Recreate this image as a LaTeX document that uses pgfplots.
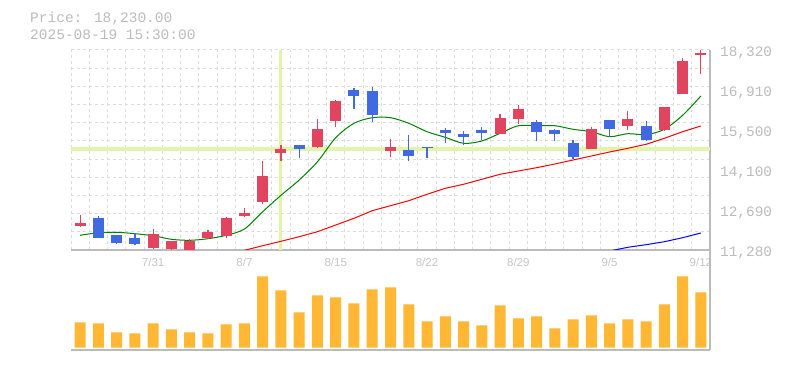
\documentclass[border=0pt]{standalone}
\usepackage{fontspec}
\setmainfont{Liberation Sans}
\newfontfamily\monofont{Liberation Mono}
\usepackage{pgfplots}
\pgfplotsset{compat=1.18}
\definecolor{upc}{HTML}{E0445E}
\definecolor{dnc}{HTML}{4169E1}
\definecolor{volc}{HTML}{FFB734}
\definecolor{gridc}{HTML}{DCDCDC}
\definecolor{axc}{HTML}{BBBBBB}
\definecolor{txtc}{HTML}{BBBBBB}
\definecolor{datec}{HTML}{C4C4C4}
\definecolor{crossc}{HTML}{E2F4A8}
\definecolor{mag}{HTML}{008000}
\definecolor{mar}{HTML}{FF0000}
\definecolor{mab}{HTML}{0000FF}
\begin{document}
\begin{tikzpicture}
\path[use as bounding box] (0,0) rectangle (785pt,370pt);
\node[anchor=west, text=txtc, font=\monofont\fontsize{14.5}{14.5}\selectfont, inner sep=0pt] at (30pt,351.5pt) {Price: 18,230.00};
\node[anchor=west, text=txtc, font=\monofont\fontsize{14.5}{14.5}\selectfont, inner sep=0pt] at (30pt,335.5pt) {2025-08-19 15:30:00};

% ---------------- price panel ----------------
\begin{axis}[
  at={(71pt,120pt)}, anchor=south west, scale only axis,
  width=639pt, height=200pt,
  xmin=-0.5, xmax=34.5, ymin=11280, ymax=18320,
  axis x line*=bottom, axis y line*=right,
  axis line style={axc, line width=1.3pt, -},
  major tick length=0pt, minor tick length=0pt,
  scaled y ticks=false, scaled x ticks=false,
  xtick={4,9,14,19,24,29,34},
  xticklabels={7/31,8/7,8/15,8/22,8/29,9/5,9/12},
  xticklabel style={font=\fontsize{11.5}{11.5}\selectfont, text=datec, anchor=north, inner sep=0pt, yshift=-8pt},
  ytick={11280,12688,14096,15504,16912,18320},
  yticklabels={{11,280},{12,690},{14,100},{15,500},{16,910},{18,320}},
  yticklabel style={font=\monofont\fontsize{14.4}{14.4}\selectfont, text=txtc, anchor=west, inner sep=0pt, xshift=10pt, yshift=-2.5pt},
  minor xtick={-0.5,0.5,...,34.5},
  minor ytick={11280,11920,...,18320},
  grid=minor,
  minor grid style={gridc, line width=1pt, dash pattern=on 3pt off 3pt},
  unbounded coords=jump,
]
% crosshair
\addplot[crossc, line width=3.2pt] coordinates {(-0.5,14835) (34.5,14835)};
\addplot[crossc, line width=3pt] coordinates {(11,11280) (11,18320)};
% moving averages
\addplot[mag, line width=1pt, smooth, tension=0.5] coordinates {
(0,11797) (1,11889) (2,11903) (3,11854) (4,11783) (5,11657) (6,11621) (7,11678)
(8,11797) (9,12019) (10,12628) (11,13205) (12,13744) (13,14388) (14,15233) (15,15740)
(16,15937) (17,15937) (18,15740) (19,15444) (20,15247) (21,15036) (22,15117) (23,15388)
(24,15655) (25,15655) (26,15655) (27,15529) (28,15444) (29,15268) (30,15374) (31,15339)
(32,15529) (33,16021) (34,16701)};
\addplot[mar, line width=1pt] coordinates {
(9,11269) (10,11431) (11,11586) (12,11748) (13,11924) (14,12160) (15,12396) (16,12663)
(17,12839) (18,13015) (19,13241) (20,13452) (21,13593) (22,13769) (23,13945) (24,14061)
(25,14177) (26,14307) (27,14448) (28,14589) (29,14730) (30,14860) (31,15001) (32,15212)
(33,15444) (34,15645)};
\addplot[mab, line width=1pt] coordinates {
(29,11245) (30,11375) (31,11467) (32,11572) (33,11713) (34,11878)};
% wicks (low to high)
\addplot[upc, line width=1.2pt] coordinates {
(0,12100) (0,12512) (0,nan)
(4,11315) (4,12019) (4,nan)
(5,11245) (5,11610) (5,nan)
(6,11200) (6,11667) (6,nan)
(7,11667) (7,11984) (7,nan)
(8,11702) (8,12442) (8,nan)
(9,12442) (9,12758) (9,nan)
(10,12899) (10,14413) (10,nan)
(11,14413) (11,14976) (11,nan)
(13,14870) (13,15891) (13,nan)
(14,15620) (14,16560) (14,nan)
(17,14564) (17,15187) (17,nan)
(23,15374) (23,16067) (23,nan)
(24,15726) (24,16384) (24,nan)
(28,14846) (28,15599) (28,nan)
(30,15515) (30,16173) (30,nan)
(32,15479) (32,16314) (32,nan)
(33,16782) (33,18038) (33,nan)
(34,17486) (34,18320)};
\addplot[dnc, line width=1.2pt] coordinates {
(1,11713) (1,12477) (1,nan)
(2,11502) (2,11808) (2,nan)
(3,11456) (3,11889) (3,nan)
(12,14518) (12,14990) (12,nan)
(15,16254) (15,16982) (15,nan)
(16,15796) (16,17018) (16,nan)
(18,14423) (18,15328) (18,nan)
(19,14529) (19,14916) (19,nan)
(20,15057) (20,15574) (20,nan)
(21,14987) (21,15469) (21,nan)
(22,15163) (22,15610) (22,nan)
(25,15127) (25,15856) (25,nan)
(26,15127) (26,15550) (26,nan)
(27,14494) (27,15152) (27,nan)
(29,15268) (29,15856) (29,nan)
(31,15127) (31,15821)};
% bodies (open to close)
\addplot[upc, line width=11pt] coordinates {
(0,12135) (0,12241) (0,nan)
(4,11350) (4,11843) (4,nan)
(5,11315) (5,11597) (5,nan)
(6,11230) (6,11597) (6,nan)
(7,11702) (7,11914) (7,nan)
(8,11783) (8,12406) (8,nan)
(9,12477) (9,12582) (9,nan)
(10,12970) (10,13885) (10,nan)
(11,14705) (11,14835) (11,nan)
(13,14906) (13,15539) (13,nan)
(14,15831) (14,16525) (14,nan)
(17,14775) (17,14906) (17,nan)
(23,15374) (23,15926) (23,nan)
(24,15891) (24,16243) (24,nan)
(28,14846) (28,15539) (28,nan)
(30,15655) (30,15891) (30,nan)
(32,15515) (32,16314) (32,nan)
(33,16782) (33,17933) (33,nan)
(34,18155) (34,18230)};
\addplot[dnc, line width=11pt] coordinates {
(1,12406) (1,11713) (1,nan)
(2,11808) (2,11537) (2,nan)
(3,11702) (3,11491) (3,nan)
(12,14976) (12,14846) (12,nan)
(15,16912) (15,16711) (15,nan)
(16,16877) (16,16043) (16,nan)
(18,14800) (18,14599) (18,nan)
(19,14916) (19,14881) (19,nan)
(20,15504) (20,15409) (20,nan)
(21,15363) (21,15268) (21,nan)
(22,15504) (22,15409) (22,nan)
(25,15786) (25,15444) (25,nan)
(26,15504) (26,15374) (26,nan)
(27,15046) (27,14564) (27,nan)
(29,15856) (29,15550) (29,nan)
(31,15645) (31,15163)};
\end{axis}

% ---------------- volume panel ----------------
\begin{axis}[
  at={(71pt,20pt)}, anchor=south west, scale only axis,
  width=639pt, height=100pt,
  xmin=-0.5, xmax=34.5, ymin=-2.5, ymax=97.5,
  axis x line*=bottom, axis y line*=right,
  axis line style={axc, line width=1.3pt, -},
  major tick length=0pt, minor tick length=0pt,
  xtick=\empty, ytick=\empty,
  minor xtick={-0.5,0.5,...,34.5},
  xminorgrids=true,
  minor grid style={gridc, line width=1pt, dash pattern=on 3pt off 3pt},
]
\addplot[ybar, bar width=11pt, fill=volc, draw=none] coordinates {
(0,25) (1,24) (2,15) (3,14) (4,24) (5,18) (6,15) (7,14) (8,23) (9,24)
(10,71) (11,57) (12,35) (13,52) (14,50) (15,44) (16,58) (17,60) (18,43) (19,26)
(20,31) (21,26) (22,22) (23,42) (24,29) (25,31) (26,19) (27,28) (28,32) (29,24)
(30,28) (31,26) (32,43) (33,71) (34,55)};
\end{axis}
\end{tikzpicture}
\end{document}
